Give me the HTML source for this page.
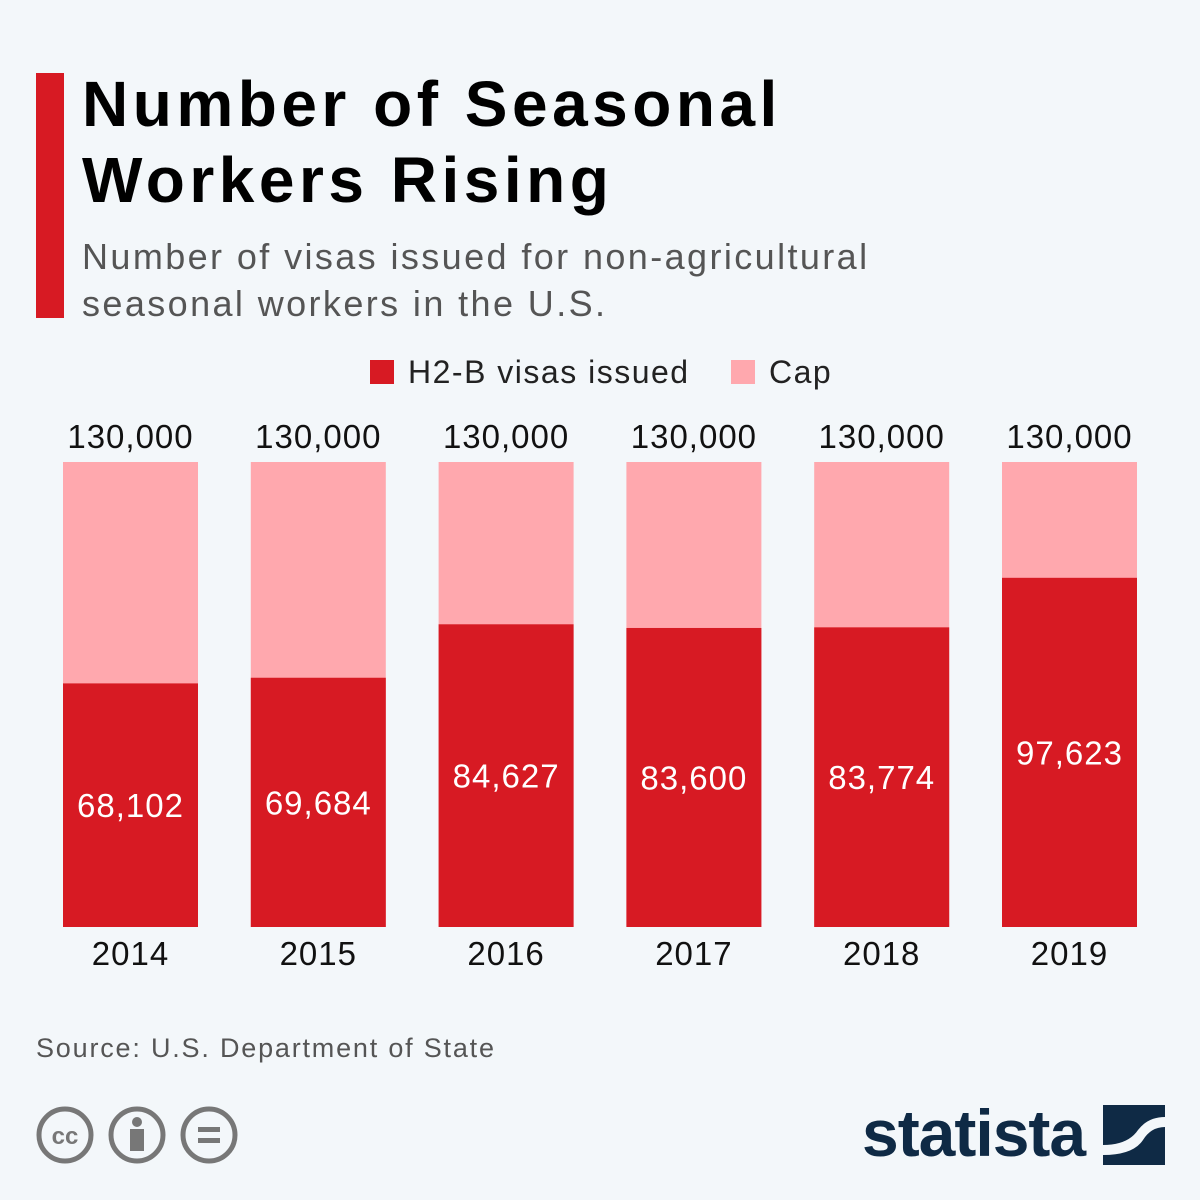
<!DOCTYPE html>
<html><head><meta charset="utf-8"><style>
body{margin:0;width:1200px;height:1200px;background:#f3f7fa;font-family:"Liberation Sans",sans-serif;position:relative;overflow:hidden}
.t{position:absolute;left:82px;top:66px;font-size:64px;font-weight:bold;line-height:76px;color:#000;letter-spacing:4.5px}
.s{position:absolute;left:82px;top:233px;font-size:36px;line-height:47px;color:#555;letter-spacing:2.4px}
.bar{position:absolute;left:36px;top:73px;width:28px;height:245px;background:#d71a23}
.src{position:absolute;left:36px;top:1033px;font-size:27px;color:#555;letter-spacing:1.8px}
</style></head><body>
<div class="bar"></div>
<div class="t">Number of Seasonal<br>Workers Rising</div>
<div class="s">Number of visas issued for non-agricultural<br>seasonal workers in the U.S.</div>
<svg id="chart" width="1200" height="1000" style="position:absolute;left:0;top:0">
<g>
<rect x="370" y="360" width="24" height="24" fill="#d71a23"/>
<text x="408" y="383" font-size="32" fill="#222" letter-spacing="1.5">H2-B visas issued</text>
<rect x="731" y="360" width="24" height="24" fill="#ffa8ae"/>
<text x="769" y="383" font-size="32" fill="#222" letter-spacing="1.5">Cap</text>
</g>
</svg>
<div class="src">Source: U.S. Department of State</div>
<svg width="240" height="60" style="position:absolute;left:34px;top:1105px">
<g fill="none" stroke="#777" stroke-width="5">
<circle cx="31" cy="30" r="26"/><circle cx="103" cy="30" r="26"/><circle cx="175" cy="30" r="26"/></g>
<text x="31" y="39" font-size="24" font-weight="bold" fill="#777" text-anchor="middle">cc</text>
<circle cx="103" cy="17" r="5" fill="#777"/><rect x="96" y="24" width="14" height="22" fill="#777"/>
<rect x="164" y="22" width="22" height="5" fill="#777"/><rect x="164" y="33" width="22" height="5" fill="#777"/>
</svg>
<div style="position:absolute;left:862px;top:1095px;font-size:66px;font-weight:bold;color:#0f2a45;letter-spacing:-1px">statista</div>
<svg width="62" height="60" style="position:absolute;left:1103px;top:1105px">
<rect width="62" height="60" fill="#0f2a45"/><path d="M0 40 Q25 40 35 25 Q45 12 62 12 L62 22 Q48 22 40 35 Q30 50 0 50Z" fill="#f3f7fa"/>
</svg>
<script>
const years=["2014","2015","2016","2017","2018","2019"];
const issued=[68102,69684,84627,83600,83774,97623];
const cap=[130000,130000,130000,130000,130000,130000];
const svg=document.getElementById('chart');
const NS='http://www.w3.org/2000/svg';
const base=927,top0=462,maxV=130000;
const y=v=>base-(v/maxV)*(base-top0);
const x=i=>63+i*187.8;
const bw=135;
function mk(t,a,txt){const e=document.createElementNS(NS,t);for(const k in a)e.setAttribute(k,a[k]);if(txt!=null)e.textContent=txt;svg.appendChild(e);return e;}
const fmt=v=>v.toLocaleString('en-US');
years.forEach((yr,i)=>{
 let r=mk('rect',{x:x(i),y:y(cap[i]),width:bw,height:base-y(cap[i]),fill:'#ffa8ae'});
 
 
 let b=mk('rect',{x:x(i),y:y(issued[i]),width:bw,height:base-y(issued[i]),fill:'#d71a23'});
 
 
 let c=mk('text',{x:x(i)+bw/2,y:y(cap[i])-14,'font-size':33,fill:'#111','text-anchor':'middle','letter-spacing':1},fmt(cap[i]));
 
 
 let v=mk('text',{x:x(i)+bw/2,y:(y(issued[i])+base)/2+12,'font-size':33,fill:'#fff','text-anchor':'middle','letter-spacing':1},fmt(issued[i]));
 
 
 let l=mk('text',{x:x(i)+bw/2,y:965,'font-size':33,fill:'#111','text-anchor':'middle','letter-spacing':1},yr);
 
 
});
</script>
</body></html>
